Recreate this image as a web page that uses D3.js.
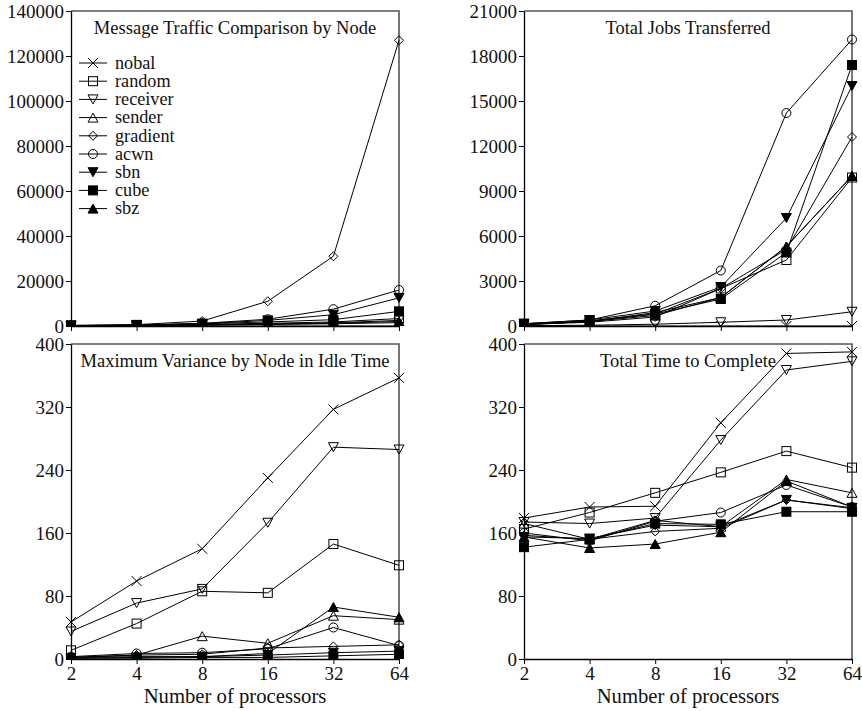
<!DOCTYPE html>
<html>
<head>
<meta charset="utf-8">
<script src="https://cdn.jsdelivr.net/npm/d3@7"></script>
<style>
  html, body { margin: 0; padding: 0; background: #fff; }
  svg { display: block; }
  text { font-family: "Liberation Serif", "Times New Roman", serif; fill: #111; }
</style>
</head>
<body>
<svg id="chart" width="862" height="711"></svg>
<script>
// ---------------- DATA ----------------
const processors = [2, 4, 8, 16, 32, 64];
const seriesNames = ["nobal", "random", "receiver", "sender", "gradient", "acwn", "sbn", "cube", "sbz"];

// Message Traffic Comparison by Node
const msgNobal    = [0, 0, 0, 0, 0, 0];
const msgRandom   = [100, 300, 700, 1200, 1800, 3300];
const msgReceiver = [100, 250, 500, 900, 1400, 2500];
const msgSender   = [100, 250, 500, 800, 1200, 2000];
const msgGradient = [200, 600, 2200, 11000, 31000, 127000];
const msgAcwn     = [150, 400, 1200, 3000, 7500, 16000];
const msgSbn      = [150, 350, 1000, 2500, 5000, 12500];
const msgCube     = [300, 500, 1000, 1800, 2800, 6500];
const msgSbz      = [100, 200, 400, 700, 1000, 1500];
const msgTicks    = [0, 20000, 40000, 60000, 80000, 100000, 120000, 140000];

// Total Jobs Transferred
const jobNobal    = [0, 0, 0, 0, 0, 0];
const jobRandom   = [100, 300, 800, 2500, 4400, 9900];
const jobReceiver = [20, 50, 120, 250, 400, 950];
const jobSender   = [100, 300, 700, 1900, 5300, 10000];
const jobGradient = [100, 250, 600, 2500, 5100, 12600];
const jobAcwn     = [150, 400, 1350, 3700, 14200, 19100];
const jobSbn      = [150, 400, 1000, 2600, 7200, 16000];
const jobCube     = [150, 350, 800, 1800, 4900, 17400];
const jobSbz      = [100, 300, 900, 1900, 5300, 10000];
const jobTicks    = [0, 3000, 6000, 9000, 12000, 15000, 18000, 21000];

// Maximum Variance by Node in Idle Time
const varNobal    = [47, 99, 140, 230, 317, 357];
const varRandom   = [11, 45, 86, 84, 146, 119];
const varReceiver = [35, 71, 89, 173, 269, 266];
const varSender   = [2, 5, 29, 20, 55, 50];
const varGradient = [2, 5, 6, 14, 16, 18];
const varAcwn     = [3, 7, 8, 13, 40, 17];
const varSbn      = [1, 2, 3, 5, 8, 10];
const varCube     = [1, 1, 2, 2, 4, 6];
const varSbz      = [2, 3, 3, 7, 66, 53];
const varTicks    = [0, 80, 160, 240, 320, 400];

// Total Time to Complete
const timeNobal    = [179, 193, 194, 300, 388, 390];
const timeRandom   = [165, 186, 211, 237, 264, 243];
const timeReceiver = [174, 172, 179, 278, 367, 378];
const timeSender   = [172, 152, 176, 168, 228, 211];
const timeGradient = [157, 152, 162, 166, 202, 191];
const timeAcwn     = [160, 150, 175, 186, 221, 193];
const timeSbn      = [155, 153, 170, 168, 202, 192];
const timeCube     = [142, 152, 172, 171, 187, 187];
const timeSbz      = [155, 141, 146, 161, 226, 193];
const timeTicks    = [0, 80, 160, 240, 320, 400];

const xAxisTitle = "Number of processors";

// ---------------- PANELS ----------------
const panels = [
  { title: "Message Traffic Comparison by Node", ticks: msgTicks, max: 140000,
    series: [msgNobal, msgRandom, msgReceiver, msgSender, msgGradient, msgAcwn, msgSbn, msgCube, msgSbz],
    box: { l: 71, r: 399, t: 11, b: 326 }, legend: true, xlabels: false },
  { title: "Total Jobs Transferred", ticks: jobTicks, max: 21000,
    series: [jobNobal, jobRandom, jobReceiver, jobSender, jobGradient, jobAcwn, jobSbn, jobCube, jobSbz],
    box: { l: 524, r: 852, t: 11, b: 326 }, legend: false, xlabels: false },
  { title: "Maximum Variance by Node in Idle Time", ticks: varTicks, max: 400,
    series: [varNobal, varRandom, varReceiver, varSender, varGradient, varAcwn, varSbn, varCube, varSbz],
    box: { l: 71, r: 399, t: 344, b: 659 }, legend: false, xlabels: true },
  { title: "Total Time to Complete", ticks: timeTicks, max: 400,
    series: [timeNobal, timeRandom, timeReceiver, timeSender, timeGradient, timeAcwn, timeSbn, timeCube, timeSbz],
    box: { l: 524, r: 852, t: 344, b: 659 }, legend: false, xlabels: true }
];

// ---------------- MARKERS ----------------
const markerDefs = [
  { kind: "x",       fill: false },
  { kind: "square",  fill: false },
  { kind: "tridown", fill: false },
  { kind: "triup",   fill: false },
  { kind: "diamond", fill: false },
  { kind: "circle",  fill: false },
  { kind: "tridown", fill: true },
  { kind: "square",  fill: true },
  { kind: "triup",   fill: true }
];

function drawMarker(g, kind, filled, x, y) {
  const fill = filled ? "#000" : "none";
  let el;
  if (kind === "x") {
    const s = 5;
    el = g.append("path").attr("d", `M${x-s},${y-s}L${x+s},${y+s}M${x-s},${y+s}L${x+s},${y-s}`).attr("fill", "none");
  } else if (kind === "square") {
    const s = 4.5;
    el = g.append("rect").attr("x", x - s).attr("y", y - s).attr("width", 2*s).attr("height", 2*s).attr("fill", fill);
  } else if (kind === "circle") {
    el = g.append("circle").attr("cx", x).attr("cy", y).attr("r", 4.5).attr("fill", fill);
  } else if (kind === "diamond") {
    const s = 4.5;
    el = g.append("path").attr("d", `M${x},${y-s}L${x+s},${y}L${x},${y+s}L${x-s},${y}Z`).attr("fill", fill);
  } else if (kind === "triup") {
    const w = 5, h = 4.5;
    el = g.append("path").attr("d", `M${x},${y-h}L${x+w},${y+h}L${x-w},${y+h}Z`).attr("fill", fill);
  } else if (kind === "tridown") {
    const w = 5, h = 4.5;
    el = g.append("path").attr("d", `M${x},${y+h}L${x+w},${y-h}L${x-w},${y-h}Z`).attr("fill", fill);
  }
  el.attr("stroke", "#000").attr("stroke-width", 1);
}

// ---------------- DRAW ----------------
const svg = d3.select("#chart");
const defs = svg.append("defs");

panels.forEach((p, pi) => {
  const b = p.box;
  const x = d3.scaleLog().base(2).domain([processors[0], processors[processors.length - 1]]).range([b.l, b.r]);
  const y = d3.scaleLinear().domain([0, p.max]).range([b.b, b.t]);
  const g = svg.append("g");

  defs.append("clipPath").attr("id", "clip" + pi)
    .append("rect").attr("x", b.l - 6).attr("y", b.t - 6).attr("width", b.r - b.l + 12).attr("height", b.b - b.t + 6);

  // white background
  g.append("rect").attr("x", b.l).attr("y", b.t).attr("width", b.r - b.l).attr("height", b.b - b.t).attr("fill", "#fff");

  // frame
  g.append("path")
    .attr("d", `M${b.l},${b.t}L${b.r},${b.t}L${b.r},${b.b}`)
    .attr("fill", "none").attr("stroke", "#555").attr("stroke-width", 1.6);

  // y axis
  const ya = g.append("g").attr("transform", `translate(${b.l},0)`)
    .call(d3.axisLeft(y).tickValues(p.ticks).tickFormat(d3.format("d")).tickSize(5).tickSizeOuter(0).tickPadding(2));
  ya.select(".domain").attr("stroke", "#000").attr("stroke-width", 1.3);
  ya.selectAll(".tick line").attr("stroke", "#000");
  ya.selectAll(".tick text").attr("font-size", 19).attr("font-family", '"Liberation Serif", serif').attr("fill", "#111").attr("dy", "0.34em");

  // x axis
  const xa = g.append("g").attr("transform", `translate(0,${b.b})`)
    .call(d3.axisBottom(x).tickValues(processors).tickFormat(d3.format("d")).tickSize(5).tickSizeOuter(0).tickPadding(3));
  xa.select(".domain").attr("stroke", "#000").attr("stroke-width", 1.3);
  xa.selectAll(".tick line").attr("stroke", "#000");
  xa.selectAll(".tick text").attr("font-size", 19).attr("font-family", '"Liberation Serif", serif').attr("fill", "#111");
  if (!p.xlabels) xa.selectAll(".tick text").remove();

  if (p.xlabels) {
    g.append("text").attr("x", (b.l + b.r) / 2).attr("y", b.b + 44)
      .attr("text-anchor", "middle").attr("font-size", 20.7).text(xAxisTitle);
  }

  // title
  g.append("text").attr("x", (b.l + b.r) / 2).attr("y", b.t + 23)
    .attr("text-anchor", "middle").attr("font-size", 18.5).text(p.title);

  // data (clipped to plot area)
  const dg = g.append("g").attr("clip-path", `url(#clip${pi})`);
  const line = d3.line().x((d, i) => x(processors[i])).y(d => y(d));
  p.series.forEach(vals => {
    dg.append("path").datum(vals).attr("d", line)
      .attr("fill", "none").attr("stroke", "#000").attr("stroke-width", 1);
  });
  p.series.forEach((vals, si) => {
    const m = markerDefs[si];
    vals.forEach((v, i) => drawMarker(dg, m.kind, m.fill, x(processors[i]), y(v)));
  });

  // legend
  if (p.legend) {
    const lg = g.append("g");
    seriesNames.forEach((name, i) => {
      const ly = 63 + i * 18.2;
      lg.append("line").attr("x1", 79).attr("x2", 107).attr("y1", ly).attr("y2", ly)
        .attr("stroke", "#000").attr("stroke-width", 1);
      drawMarker(lg, markerDefs[i].kind, markerDefs[i].fill, 93, ly);
      lg.append("text").attr("x", 115).attr("y", ly).attr("dy", "0.32em")
        .attr("font-size", 18.2).text(name);
    });
  }
});
</script>
</body>
</html>
